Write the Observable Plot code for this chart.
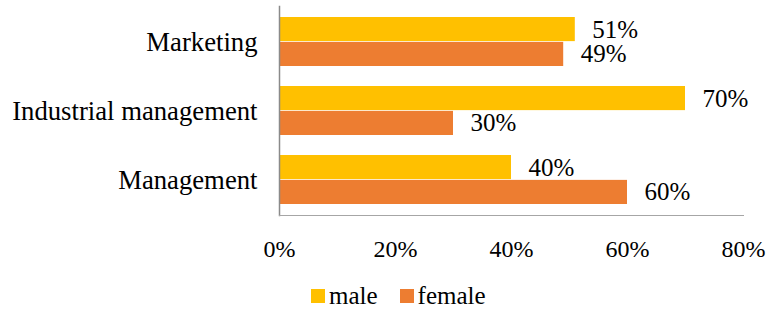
<!DOCTYPE html>
<html>
<head>
<meta charset="utf-8">
<script src="https://cdn.jsdelivr.net/npm/d3@7"></script>
<script src="https://cdn.jsdelivr.net/npm/@observablehq/plot@0.6"></script>
<style>
  body { margin: 0; background: #fff; }
  #chart { width: 767px; }
  #chart svg, #chart text, #chart div, #chart span { font-family: "Liberation Serif", "Times New Roman", serif !important; }
  #chart [class$="-swatch"] { margin-right: 22px !important; }
  #chart [class$="-swatch"] svg { margin-right: 4px !important; }
  #chart [class$="-swatches-wrap"] { min-height: 0 !important; }
</style>
</head>
<body>
<div id="chart"></div>
<script>
const categories = ["Marketing", "Industrial management", "Management"];
const series = ["male", "female"];
const maleValues = [51, 70, 40];
const femaleValues = [49, 30, 60];
const xTicks = [0, 20, 40, 60, 80];
const colors = ["#FFC000", "#ED7D31"];

const W = 767, H = 280, MT = 6, MB = H - 215, ML = 279, MR = 24;
const PI = 0.2857, PO = 0.1429;

const data = [];
categories.forEach((c, i) => {
  data.push({category: c, sex: "male", value: maleValues[i]});
  data.push({category: c, sex: "female", value: femaleValues[i]});
});

const bandH = (H - MT - MB) / (categories.length - PI + 2 * PO) * (1 - PI);
const half = bandH / 2;

const plot = Plot.plot({
  width: W, height: H,
  marginTop: MT, marginBottom: MB, marginLeft: ML, marginRight: MR,
  style: {fontSize: "25px", color: "#000", background: "#fff"},
  x: {domain: [0, 80], label: null},
  y: {domain: categories, paddingInner: PI, paddingOuter: PO, label: null},
  color: {domain: series, range: colors},
  marks: [
    Plot.barX(data.filter(d => d.sex === "male"), {x: "value", y: "category", fill: "sex", insetBottom: half}),
    Plot.barX(data.filter(d => d.sex === "female"), {x: "value", y: "category", fill: "sex", insetTop: half}),
    Plot.text(data.filter(d => d.sex === "male"), {x: "value", y: "category", text: d => d.value + "%", dy: -half / 2, dx: 17, textAnchor: "start", fontSize: 25, fill: "#000"}),
    Plot.text(data.filter(d => d.sex === "female"), {x: "value", y: "category", text: d => d.value + "%", dy: half / 2, dx: 17, textAnchor: "start", fontSize: 25, fill: "#000"}),
    Plot.axisX({ticks: xTicks, tickFormat: d => d + "%", tickSize: 0, tickPadding: 24, fontSize: 24, label: null, fill: "#000"}),
    Plot.axisY({tickSize: 0, tickPadding: 22, fontSize: 26.7, label: null, fill: "#000"}),
    Plot.frame({anchor: "left", stroke: "#8a8a8a", strokeWidth: 1.5}),
    Plot.frame({anchor: "bottom", stroke: "#a6a6a6", strokeWidth: 1})
  ]
});
document.getElementById("chart").appendChild(plot);

const legend = Plot.legend({
  color: {domain: series, range: colors},
  swatchSize: 14,
  style: {fontSize: "25px", lineHeight: "20px", color: "#000", marginLeft: "311px", paddingTop: "6px", marginBottom: "0px"}
});
document.getElementById("chart").appendChild(legend);
</script>
</body>
</html>
